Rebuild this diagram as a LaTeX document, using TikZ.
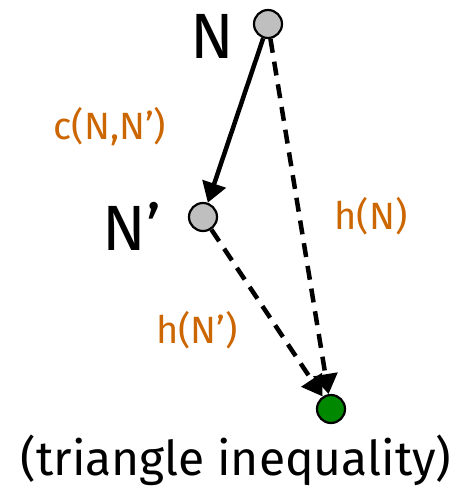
\documentclass[tikz,border=0pt]{standalone}
\usepackage{fontspec}
\setmainfont{Fira Sans}
\usetikzlibrary{arrows.meta}
\definecolor{lblorange}{RGB}{204,102,0}
\definecolor{goalgreen}{RGB}{0,136,0}
\begin{document}
\begin{tikzpicture}[x=1pt,y=-1pt,
  state/.style={circle,draw=black,line width=2.2pt,fill=gray!50,minimum size=28pt,inner sep=0pt},
  goal/.style={state,fill=goalgreen},
  edge/.style={line width=4.5pt,-{Triangle[length=20pt,width=24pt]}},
  heur/.style={edge,dash pattern=on 14pt off 9pt},
  lbl/.style={text=lblorange,font=\fontsize{38}{38}\selectfont},
  big/.style={font=\fontsize{64}{64}\selectfont}]
\useasboundingbox (0,0) rectangle (459,488);
\node[state] (n) at (268,24) {};
\node[state] (np) at (203,217) {};
\node[goal] (g) at (331,409) {};
\node[big] (nlab) at (212,36) {N};
\node[big] (nplab) at (132,226) {N’};
\node[lbl] (c) at (110,127) {c(N,N’)};
\node[lbl] (hn) at (371,216) {h(N)};
\node[lbl] (hnp) at (197,330) {h(N’)};
\node[font=\fontsize{48}{48}\selectfont] (t) at (236,460) {(triangle inequality)};
\draw[edge] (n) -- (np);
\draw[heur] (n) -- (g);
\draw[heur] (np) -- (g);
\end{tikzpicture}
\end{document}
